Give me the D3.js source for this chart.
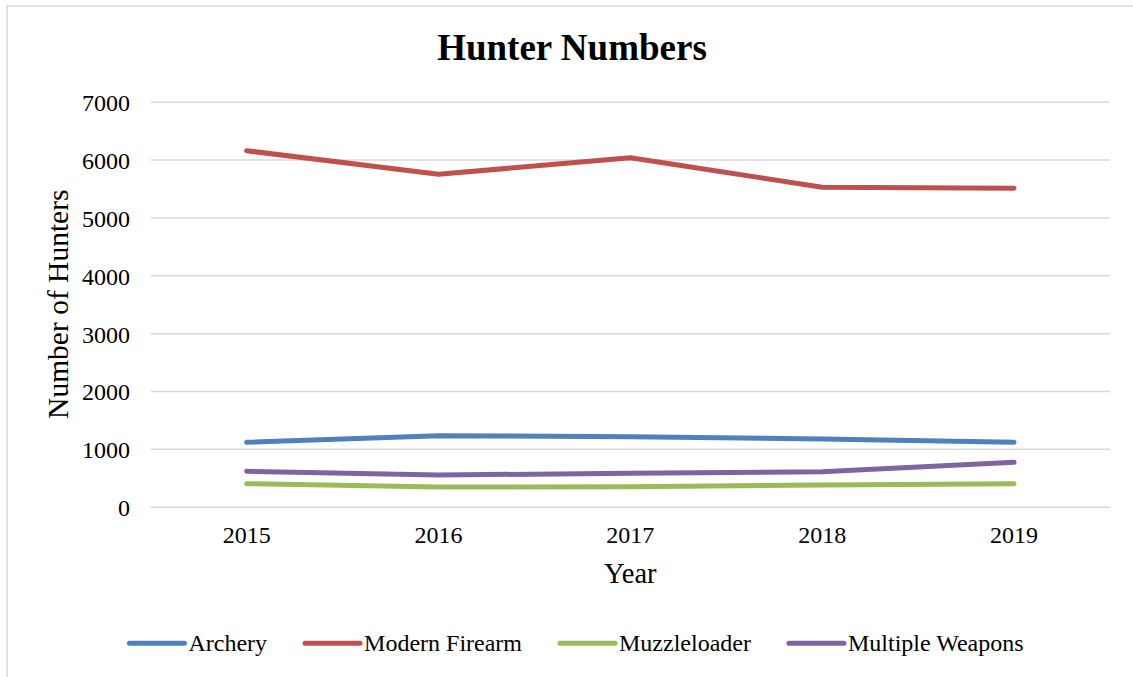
<!DOCTYPE html>
<html>
<head>
<meta charset="utf-8">
<script src="https://cdn.jsdelivr.net/npm/d3@7"></script>
<style>
  html, body { margin: 0; padding: 0; background: #ffffff; }
  svg { display: block; font-family: "Liberation Serif", "Times New Roman", serif; }
</style>
</head>
<body>
<svg id="chart" width="1133" height="677"></svg>
<script>
// Hunter counts by weapon type, 2015–2019
const years = ["2015", "2016", "2017", "2018", "2019"];
const archery = [1113, 1227, 1210, 1170, 1113];
const modernFirearm = [6153, 5745, 6032, 5520, 5503];
const muzzleloader = [398, 340, 346, 375, 398];
const multipleWeapons = [612, 548, 577, 605, 767];
const yTicks = [0, 1000, 2000, 3000, 4000, 5000, 6000, 7000];

const seriesNames = ["Archery", "Modern Firearm", "Muzzleloader", "Multiple Weapons"];
const seriesColors = ["#4F81BD", "#C0504D", "#9BBB59", "#8064A2"];
const seriesValues = [archery, modernFirearm, muzzleloader, multipleWeapons];

const series = seriesNames.map((name, i) => ({
  name,
  color: seriesColors[i],
  values: seriesValues[i].map((v, j) => ({ year: years[j], value: v }))
}));

const svg = d3.select("#chart");
const W = 1133, H = 677;
const plot = { left: 150.7, right: 1110, top: 101.7, bottom: 506.7 };

// Outer chart frame
svg.append("rect")
  .attr("x", 7).attr("y", 6)
  .attr("width", W + 20).attr("height", H + 20)
  .attr("fill", "#ffffff")
  .attr("stroke", "#d9d9d9")
  .attr("stroke-width", 1.5);

const x = d3.scaleBand().domain(years).range([plot.left, plot.right]).padding(0);
const xc = d => x(d) + x.bandwidth() / 2;
const y = d3.scaleLinear().domain([0, 7000]).range([plot.bottom, plot.top]);

// Gridlines and y tick labels
const yAxis = svg.append("g")
  .attr("transform", `translate(${plot.left},0)`)
  .call(d3.axisLeft(y).tickValues(yTicks).tickFormat(d3.format("d"))
    .tickSize(-(plot.right - plot.left)).tickPadding(20.7));
yAxis.select(".domain").remove();
yAxis.selectAll(".tick line").attr("stroke", "#d9d9d9").attr("stroke-width", 1.5);
yAxis.selectAll(".tick text")
  .attr("fill", "#000").attr("font-size", 24)
  .attr("font-family", "Liberation Serif, Times New Roman, serif")
  .attr("dy", "0.37em");

// X tick labels
const xAxis = svg.append("g")
  .attr("transform", `translate(0,${plot.bottom})`)
  .call(d3.axisBottom(x).tickSize(0).tickPadding(19));
xAxis.select(".domain").remove();
xAxis.selectAll(".tick text")
  .attr("fill", "#000").attr("font-size", 24)
  .attr("font-family", "Liberation Serif, Times New Roman, serif");

// Series lines
const line = d3.line().x(d => xc(d.year)).y(d => y(d.value));
svg.append("g").selectAll("path")
  .data(series)
  .join("path")
  .attr("d", d => line(d.values))
  .attr("fill", "none")
  .attr("stroke", d => d.color)
  .attr("stroke-width", 5)
  .attr("stroke-linecap", "round")
  .attr("stroke-linejoin", "round");

// Title
svg.append("text")
  .attr("x", 572).attr("y", 60)
  .attr("text-anchor", "middle")
  .attr("font-size", 37).attr("font-weight", "bold")
  .text("Hunter Numbers");

// Axis titles
svg.append("text")
  .attr("x", (plot.left + plot.right) / 2).attr("y", 583)
  .attr("text-anchor", "middle")
  .attr("font-size", 28.5)
  .text("Year");

svg.append("text")
  .attr("transform", `translate(68,${(plot.top + plot.bottom) / 2}) rotate(-90)`)
  .attr("text-anchor", "middle")
  .attr("font-size", 29.5)
  .text("Number of Hunters");

// Legend
const legend = svg.append("g");
const items = legend.selectAll("g").data(series).join("g");
items.append("line")
  .attr("x1", 0).attr("x2", 55)
  .attr("y1", 0).attr("y2", 0)
  .attr("stroke", d => d.color)
  .attr("stroke-width", 5)
  .attr("stroke-linecap", "round");
items.append("text")
  .attr("x", 59).attr("y", 0).attr("dy", "0.33em")
  .attr("font-size", 24)
  .text(d => d.name);

let cursor = 0;
const gap = 38;
items.each(function () {
  const g = d3.select(this);
  g.attr("transform", `translate(${cursor},0)`);
  const tw = g.select("text").node().getComputedTextLength();
  cursor += 59 + tw + gap;
});
const legendWidth = cursor - gap;
legend.attr("transform", `translate(${576.5 - legendWidth / 2},643.3)`);
</script>
</body>
</html>
